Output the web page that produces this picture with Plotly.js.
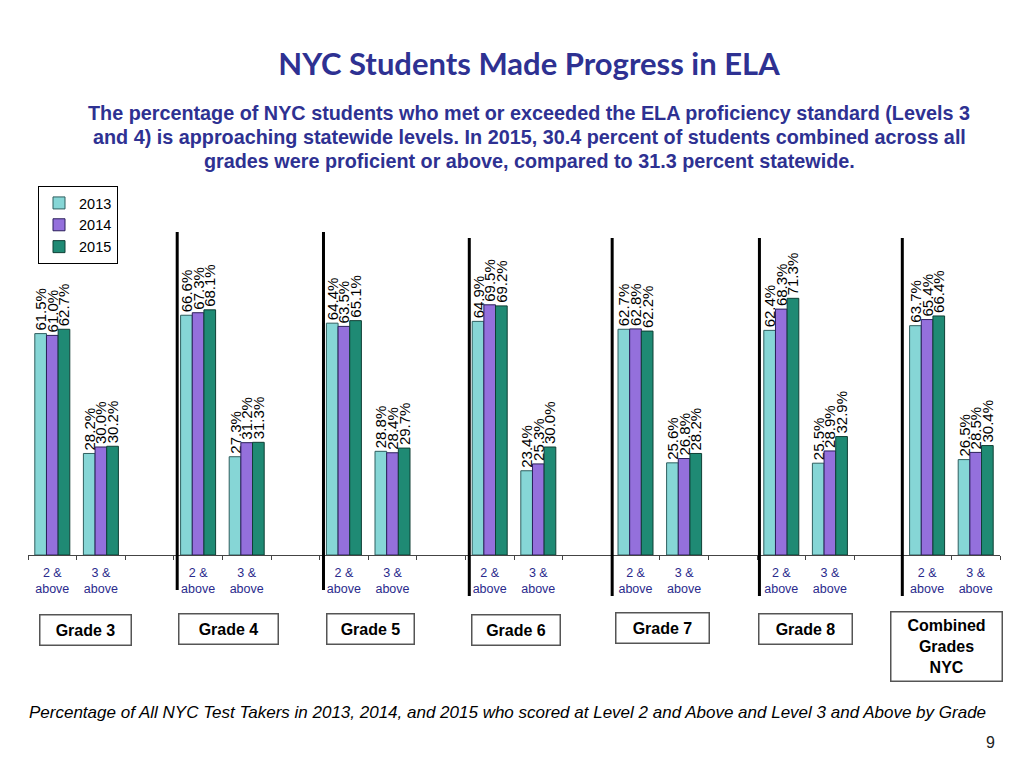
<!DOCTYPE html>
<html>
<head>
<meta charset="utf-8">
<script src="https://cdn.plot.ly/plotly-3.0.1.min.js"></script>
<style>html,body{margin:0;padding:0;background:#fff;}#chart{width:1024px;height:768px;}</style>
</head>
<body>
<div id="chart"></div>
<script>
// ---- data ----
var years = ['2013', '2014', '2015'];
var grades = ['Grade 3', 'Grade 4', 'Grade 5', 'Grade 6', 'Grade 7', 'Grade 8', 'Combined<br>Grades<br>NYC'];
var levels = ['2 &<br>above', '3 &<br>above'];
// values per year: for each grade [2 & above, 3 & above]
var v2013 = [[61.5, 28.2], [66.6, 27.3], [64.4, 28.8], [64.9, 23.4], [62.7, 25.6], [62.4, 25.5], [63.7, 26.5]];
var v2014 = [[61.0, 30.0], [67.3, 31.2], [63.5, 28.4], [69.5, 25.3], [62.8, 26.8], [68.3, 28.9], [65.4, 28.5]];
var v2015 = [[62.7, 30.2], [68.1, 31.3], [65.1, 29.7], [69.2, 30.0], [62.2, 28.2], [71.3, 32.9], [66.4, 30.4]];

// ---- styling ----
var colors = ['#86d6d6', '#9470dc', '#1f8a74'];
var lineColors = ['#2f5f5f', '#2a1f5a', '#0f3f35'];
var series = [v2013, v2014, v2015];
var AR = 'Liberation Sans, Arial, sans-serif';
var NARROW = 'Liberation Sans Narrow, Arial Narrow, Liberation Sans, Arial, sans-serif';

// plot area geometry (pixels)
var L = 28, R = 1000, B = 555, T = 195;
var W = R - L, H = B - T;
function px(x) { return (x - L) / W; }
function py(y) { return (B - y) / H; }

// slot position: 3 slots per grade group, third slot empty
function slot(g, l) { return 3 * g + l; }

var traces = series.map(function (vals, si) {
  var xs = [], ys = [], txt = [];
  vals.forEach(function (pair, g) {
    pair.forEach(function (v, l) {
      xs.push(slot(g, l)); ys.push(v); txt.push(v.toFixed(1) + '%');
    });
  });
  return {
    type: 'bar', name: years[si], x: xs, y: ys, text: txt,
    textposition: 'outside', textangle: -90, constraintext: 'none', cliponaxis: false,
    textfont: {family: NARROW, size: 15, color: '#000'},
    marker: {color: colors[si], line: {color: lineColors[si], width: 1}},
    hoverinfo: 'skip'
  };
});

var tickvals = [], ticktext = [], minorvals = [];
grades.forEach(function (g, gi) {
  levels.forEach(function (lv, li) { tickvals.push(slot(gi, li)); ticktext.push(lv); });
});
for (var i = -0.5; i <= slot(grades.length - 1, 1) + 0.5; i += 1) minorvals.push(i);

var dividers = [2.57, 5.58, 8.58, 11.52, 14.55, 17.49];
var shapes = dividers.map(function (d, i) {
  return {type: 'line', xref: 'x', yref: 'paper', x0: d, x1: d,
    y0: py(i >= 2 ? 596 : 590), y1: py(i >= 2 ? 238 : 232), line: {color: '#000', width: 3}};
});

var annotations = [];
var subLines = [
  'The percentage of NYC students who met or exceeded the ELA proficiency standard (Levels 3',
  'and 4) is approaching statewide levels. In 2015, 30.4 percent of students combined across all',
  'grades were proficient or above, compared to 31.3 percent statewide.'
];
subLines.forEach(function (t, i) {
  annotations.push({xref: 'paper', yref: 'paper', x: px(529), y: py(113 + 24 * i), xanchor: 'center', yanchor: 'middle',
    text: '<b>' + t + '</b>', showarrow: false, font: {family: AR, size: 19.8, color: '#2e3192'}});
});
var boxW = [88, 96, 84, 85, 90, 90, 108];
var boxY = [630, 629, 629, 630, 628, 629, 646];
var boxDx = [9, 6, 2, 2, 3, 0, -5];
grades.forEach(function (g, gi) {
  var multi = g.indexOf('<br>') >= 0;
  annotations.push({xref: 'x', yref: 'paper', x: slot(gi, 0.5) + boxDx[gi] / 48.6, y: py(boxY[gi]),
    xanchor: 'center', yanchor: 'middle', showarrow: false,
    text: '<b>' + g + '</b>', font: {family: AR, size: 16, color: '#000'},
    bordercolor: '#555', borderwidth: 1.5, borderpad: 1, bgcolor: '#fff',
    width: boxW[gi], height: multi ? 66 : 27});
});
annotations.push({xref: 'paper', yref: 'paper', x: px(27), y: py(712), xanchor: 'left', yanchor: 'middle', showarrow: false,
  text: '<i>Percentage of All NYC Test Takers in 2013, 2014, and 2015 who scored at Level 2 and Above and Level 3 and Above by Grade</i>',
  font: {family: AR, size: 17, color: '#000'}});
annotations.push({xref: 'paper', yref: 'paper', x: px(990), y: py(742), xanchor: 'center', yanchor: 'middle', showarrow: false,
  text: '9', font: {family: AR, size: 16, color: '#222'}});

var layout = {
  width: 1024, height: 768,
  margin: {l: L, r: 1024 - R, t: T, b: 768 - B, pad: 0},
  paper_bgcolor: '#fff', plot_bgcolor: '#fff',
  title: {text: '<b>NYC Students Made Progress in ELA</b>', x: 529 / 1024, y: 1 - 64 / 768,
    xanchor: 'center', yanchor: 'middle', xref: 'container', yref: 'container',
    font: {family: 'Lato, Open Sans, sans-serif', size: 31, color: '#2e3192'}},
  barmode: 'group', bargap: 0.28, bargroupgap: 0,
  showlegend: true,
  legend: {x: px(38), y: py(186), xanchor: 'left', yanchor: 'top', bordercolor: '#000', borderwidth: 1,
    bgcolor: '#fff', font: {family: AR, size: 14.5, color: '#000'}, tracegroupgap: 0, itemwidth: 30},
  xaxis: {range: [-0.5, slot(grades.length - 1, 1) + 0.5], showline: true, linecolor: '#444', linewidth: 1,
    tickmode: 'array', tickvals: tickvals, ticktext: ticktext, ticks: '', showgrid: false, zeroline: false,
    ticklabelstandoff: 6,
    tickfont: {family: AR, size: 12.5, color: '#2a2a8c'}, fixedrange: true,
    minor: {tickmode: 'array', tickvals: minorvals, ticks: 'outside', ticklen: 4, tickcolor: '#444', showgrid: false}},
  yaxis: {range: [0, 100], visible: false, fixedrange: true},
  shapes: shapes,
  annotations: annotations
};

Plotly.newPlot('chart', traces, layout, {displayModeBar: false, staticPlot: true});
</script>
</body>
</html>
